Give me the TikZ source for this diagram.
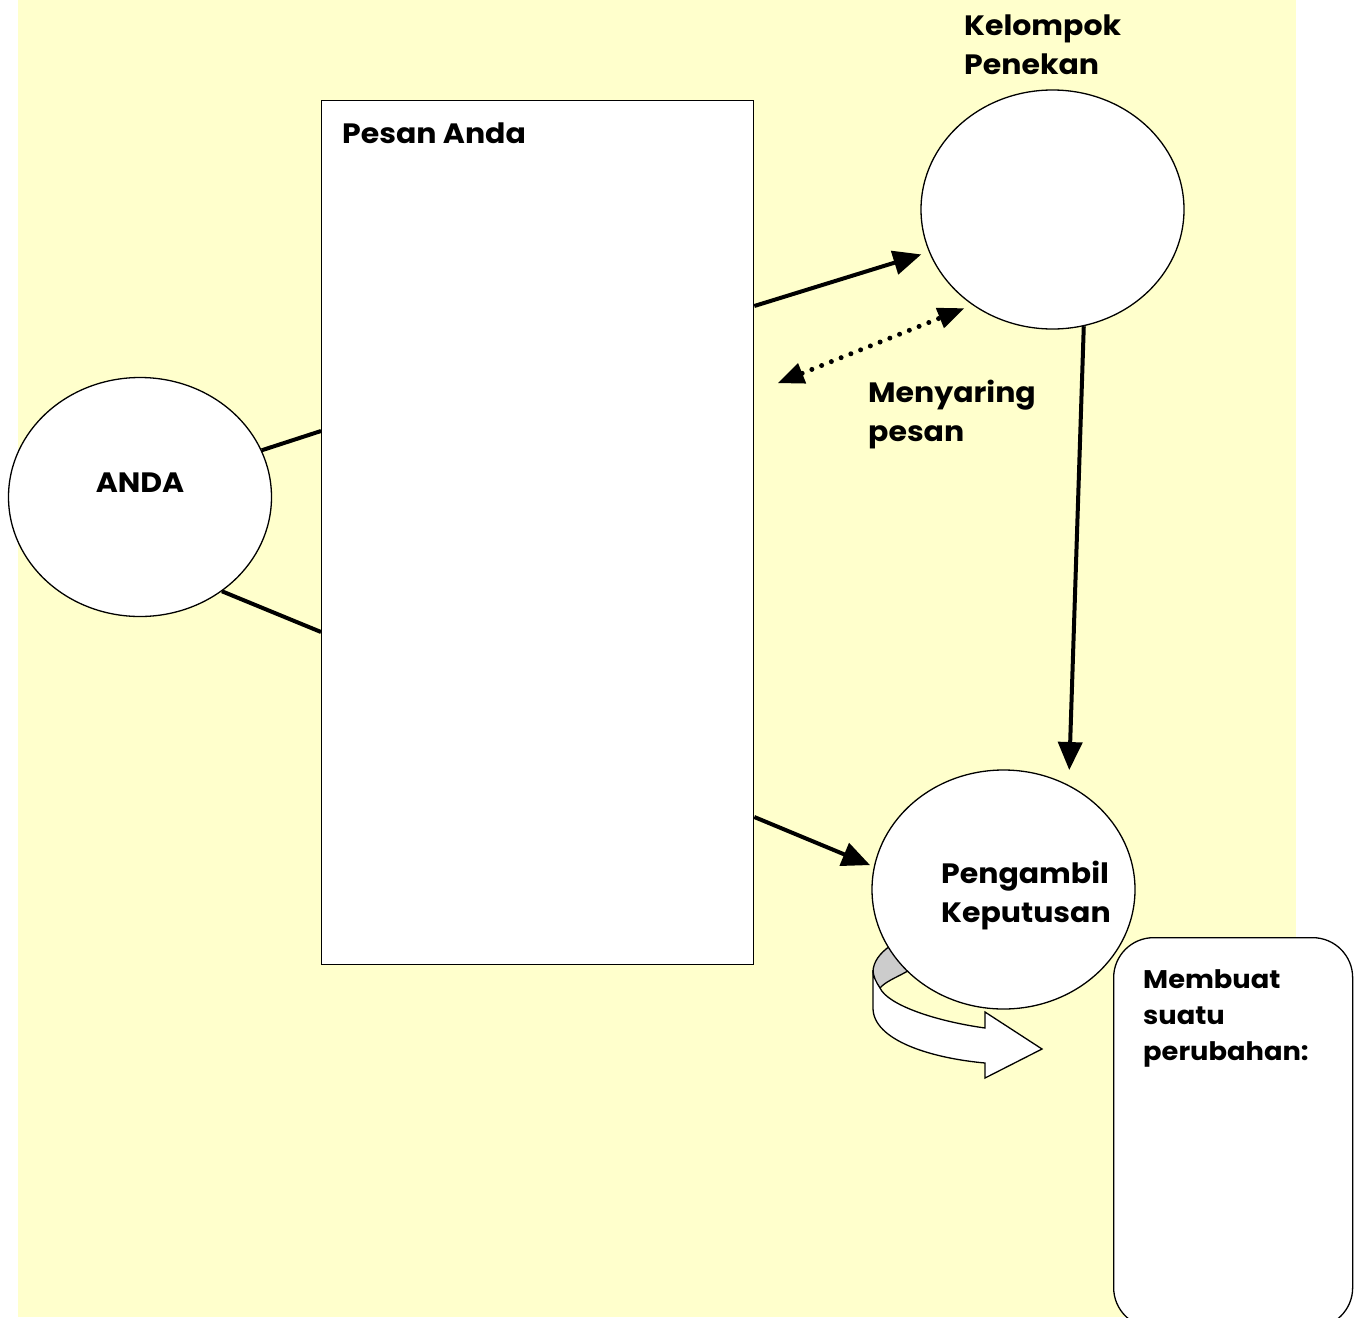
\documentclass[tikz,border=0pt]{standalone}
\usepackage{fontspec}
\setmainfont{Poppins}[FakeStretch=1.07]
\usetikzlibrary{arrows.meta,shapes.geometric,calc}
\definecolor{bgyellow}{HTML}{FFFFCC}
\definecolor{capgrey}{HTML}{CCCCCC}
\begin{document}
\begin{tikzpicture}[x=1pt,y=-1pt,
  bubble/.style={ellipse,draw,line width=1.3pt,fill=white,minimum width=263pt,minimum height=239pt,inner sep=0pt},
  lbl/.style={font=\fontsize{28}{39}\selectfont\bfseries,inner sep=0pt,anchor=base west,align=left},
  smalllbl/.style={font=\fontsize{25.5}{36}\selectfont\bfseries,inner sep=0pt,anchor=base west,align=left},
  link/.style={line width=4pt},
  arr/.style={line width=4pt,-{Triangle[length=28pt,width=24pt]}},
  dotarr/.style={line width=5pt,line cap=round,dash pattern=on 0pt off 10.5pt,{Triangle[length=26pt,width=22pt,line width=0pt]}-{Triangle[length=26pt,width=22pt,line width=0pt]}},
]
\useasboundingbox (0,0) rectangle (1359,1317);
\fill[bgyellow] (18,0) rectangle (1296,1317);

% message box
\node[draw,line width=1.3pt,fill=white,minimum width=432pt,minimum height=864pt,inner sep=0pt,anchor=north west] (msg) at (321,100) {};
\node[lbl] (msgt) at (342,143) {Pesan Anda};

% circles
\node[bubble] (anda) at (140,497) {};
\node[lbl,anchor=base] (andat) at (140,492) {ANDA};
\node[bubble] (kp) at (1052.5,209.5) {};
\node[lbl] (kpt) at (964,74) {Kelompok\\Penekan};

% grey back of the curved arrow
\path[fill=capgrey,draw=black,line width=1.3pt] (873,972) .. controls (873,962) and (880,953) .. (890,946) -- (915,965) -- (906,972) .. controls (895,978) and (885,982) .. (880,988) .. controls (876,983) and (873,978) .. (873,972);

\node[bubble] (pk) at (1003.5,889.5) {};
\node[lbl] (pkt) at (941,922) {Pengambil\\Keputusan};

% curved arrow (white band)
\path[fill=white,draw=black,line width=1.3pt,line join=miter]
  (873,970) -- (873,1008) .. controls (873,1040) and (930,1058) .. (985,1063)
  -- (985,1078) -- (1042,1049) -- (985,1012) -- (985,1028)
  .. controls (935,1021) and (888,1005) .. (880,988) .. controls (876,982) and (873,976) .. (873,970) -- cycle;

% result box
\node[draw,line width=1.3pt,fill=white,rounded corners=40pt,minimum width=239pt,minimum height=390pt,inner sep=0pt,anchor=north west] (res) at (1113,937) {};
\node[smalllbl] (rest) at (1143,1060) {Membuat\\suatu\\perubahan:};

% connectors
\draw[link] (anda.21.6) -- ($(msg.north west)+(0,331)$);
\draw[link] (anda.311) -- ($(msg.north west)+(0,532)$);
\draw[arr,shorten >=8pt] ($(msg.north east)+(0,206)$) -- (kp.199);
\draw[arr,shorten >=4pt] ($(msg.north east)+(0,717)$) -- (pk.170);
\draw[arr,shorten >=15pt] (kp.285.7) -- (pk.58);
\coordinate (dotend) at (778,383);
\draw[dotarr,shorten >=9pt] (dotend) -- (kp.230);
\node[lbl] (filt) at (868,441) {Menyaring\\pesan};
\end{tikzpicture}
\end{document}
